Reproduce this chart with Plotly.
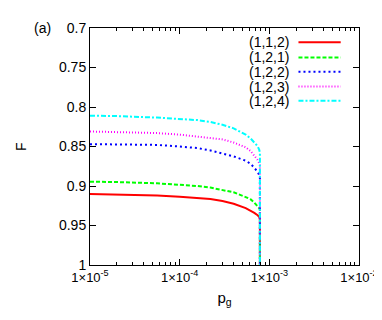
import plotly.graph_objects as go

p_g = [1e-5, 2e-5, 5.6e-5, 1e-4, 1.58e-4, 2.2e-4, 3e-4, 4e-4, 5.45e-4,
       6.2e-4, 6.8e-4, 7.4e-4, 7.7e-4, 7.85e-4, 7.85e-4]

F_112 = [0.910, 0.9105, 0.912, 0.9135, 0.9154, 0.9165, 0.919, 0.9225, 0.928,
         0.931, 0.934, 0.937, 0.939, 0.942, 1.0]
F_121 = [0.8946, 0.895, 0.8966, 0.898, 0.900, 0.902, 0.905, 0.908, 0.914,
         0.917, 0.921, 0.925, 0.928, 0.930, 1.0]
F_122 = [0.847, 0.8475, 0.848, 0.850, 0.852, 0.855, 0.859, 0.8625, 0.868,
         0.872, 0.877, 0.882, 0.886, 0.889, 1.0]
F_123 = [0.831, 0.8315, 0.833, 0.835, 0.8375, 0.839, 0.841, 0.845, 0.851,
         0.856, 0.861, 0.867, 0.871, 0.874, 1.0]
F_124 = [0.811, 0.8115, 0.8134, 0.815, 0.8166, 0.819, 0.8225, 0.827, 0.835,
         0.840, 0.845, 0.8496, 0.854, 0.8575, 1.0]

names = ["(1,1,2)", "(1,2,1)", "(1,2,2)", "(1,2,3)", "(1,2,4)"]
series = [F_112, F_121, F_122, F_123, F_124]
colors = ["#ff0000", "#00ff00", "#0000ff", "#ff00ff", "#00ffff"]
dashes = ["solid", "4px,2px", "2px,3px", "1px,2px", "5px,2px,2px,2px"]

x_ticks = [1e-5, 1e-4, 1e-3, 1e-2]
x_labels = ["1×10<sup>-5</sup>", "1×10<sup>-4</sup>", "1×10<sup>-3</sup>", "1×10<sup>-2</sup>"]
x_minor = [m * d for d in (1e-5, 1e-4, 1e-3) for m in range(2, 10)]
y_ticks = [0.7, 0.75, 0.8, 0.85, 0.9, 0.95, 1.0]
y_labels = ["0.7", "0.75", "0.8", "0.85", "0.9", "0.95", "1"]

fig = go.Figure()
for name, f, c, d in zip(names, series, colors, dashes):
    fig.add_trace(go.Scatter(x=p_g, y=f, mode="lines", name=name,
                             line=dict(color=c, width=2, dash=d),
                             showlegend=False))

# gnuplot-style key: label on the left, sample on the right
key_y = [0.940, 0.876, 0.815, 0.753, 0.693]
for name, c, d, ky in zip(names, colors, dashes, key_y):
    fig.add_annotation(x=0.742, y=ky, xref="paper", yref="paper", text=name,
                       showarrow=False, xanchor="right", yanchor="middle",
                       borderpad=0, font=dict(size=14, color="black"))
    fig.add_shape(type="line", xref="paper", yref="paper", x0=0.775, x1=0.932,
                  y0=ky, y1=ky, line=dict(color=c, width=2, dash=d))

fig.add_annotation(x=-0.139, y=1.0, xref="paper", yref="paper", text="(a)",
                   showarrow=False, xanchor="right", yanchor="middle",
                   font=dict(size=14, color="black"))
fig.add_annotation(x=-0.258, y=0.5, xref="paper", yref="paper", text="F",
                   showarrow=False, textangle=-90, xanchor="center", yanchor="middle",
                   font=dict(size=14, color="black"))

fig.update_xaxes(type="log", range=[-5, -2], tickvals=x_ticks, ticktext=x_labels,
                 ticks="inside", ticklen=6, tickcolor="black", mirror="ticks",
                 showline=True, linecolor="black", linewidth=1, showgrid=False,
                 zeroline=False,
                 minor=dict(tickvals=x_minor, ticks="inside", ticklen=3,
                            tickcolor="black", showgrid=False),
                 title=dict(text="p<sub>g</sub>", standoff=8,
                            font=dict(size=15, color="black")),
                 tickfont=dict(size=13, color="black"))
fig.update_yaxes(range=[1.0, 0.7], tickvals=y_ticks, ticktext=y_labels,
                 ticks="inside", ticklen=6, tickcolor="black", mirror="ticks",
                 showline=True, linecolor="black", linewidth=1, showgrid=False,
                 zeroline=False, tickfont=dict(size=14, color="black"))

fig.update_layout(width=382, height=320,
                  margin=dict(l=82, r=27, t=17, b=63),
                  plot_bgcolor="white", paper_bgcolor="white",
                  font=dict(family="Liberation Sans, Arial, sans-serif", color="black"))

fig.write_html("out.html")
